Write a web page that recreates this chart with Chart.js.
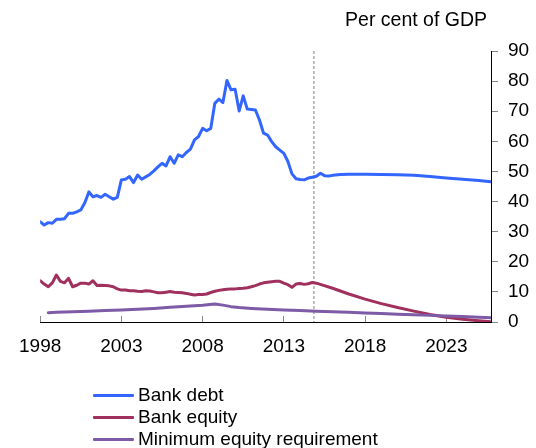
<!DOCTYPE html>
<html>
<head>
<meta charset="utf-8">
<script src="https://cdn.jsdelivr.net/npm/chart.js@4"></script>
<style>
  html, body { margin: 0; padding: 0; background: #fff; }
  #wrap { position: relative; width: 536px; height: 448px; overflow: hidden; }
  #legend { position: absolute; left: 93px; top: 384px; font-family: 'Liberation Sans', Arial, sans-serif; font-size: 19px; color: #000; }
  .row { height: 22px; line-height: 22px; white-space: nowrap; display: flex; align-items: center; }
  .swatch { width: 41px; height: 3px; margin-right: 4px; border-radius: 1px; }
</style>
</head>
<body>
<div id="wrap">
  <canvas id="c" width="536" height="448"></canvas>
  <div id="legend"></div>
</div>
<script>
// ---- Data ----
const seriesNames = ['Bank debt', 'Bank equity', 'Minimum equity requirement'];
const seriesColors = ['#3366FF', '#A0305E', '#7D5BA6'];
const yAxisTitle = 'Per cent of GDP';
const xTickYears = [1998, 2003, 2008, 2013, 2018, 2023];
const yTickMin = 0, yTickMax = 90, yTickStep = 10;
const xMin = 1998, xMax = 2025.75;
const projectionStart = 2014.85;

const debtYears = [
  1998.0, 1998.25, 1998.5, 1998.75, 1999.0, 1999.25, 1999.5, 1999.75,
  2000.0, 2000.25, 2000.5, 2000.75, 2001.0, 2001.25, 2001.5, 2001.75,
  2002.0, 2002.25, 2002.5, 2002.75, 2003.0, 2003.25, 2003.5, 2003.75,
  2004.0, 2004.25, 2004.5, 2004.75, 2005.0, 2005.25, 2005.5, 2005.75,
  2006.0, 2006.25, 2006.5, 2006.75, 2007.0, 2007.25, 2007.5, 2007.75,
  2008.0, 2008.25, 2008.5, 2008.75, 2009.0, 2009.25, 2009.5, 2009.75,
  2010.0, 2010.25, 2010.5, 2010.75, 2011.0, 2011.25, 2011.5, 2011.75,
  2012.0, 2012.25, 2012.5, 2012.75, 2013.0, 2013.25, 2013.5, 2013.75,
  2014.0, 2014.25, 2014.5, 2014.75, 2015.0, 2015.25, 2015.5, 2015.75,
  2016.0, 2016.5, 2017.0, 2018.0, 2019.0, 2020.0, 2021.0, 2022.0,
  2023.0, 2024.0, 2025.0, 2025.75
];
const debtValues = [
  33.3, 32.2, 33.0, 32.8, 34.1, 34.1, 34.3, 36.1,
  36.1, 36.6, 37.2, 39.6, 43.2, 41.6, 42.0, 41.4,
  42.4, 41.6, 40.8, 41.4, 47.2, 47.4, 48.3, 46.3,
  48.8, 47.4, 48.2, 49.0, 50.2, 51.5, 52.7, 51.8,
  54.9, 52.7, 55.5, 54.9, 56.3, 57.4, 60.5, 61.6,
  64.3, 63.5, 64.3, 72.6, 74.0, 72.9, 80.2, 77.1,
  77.3, 70.1, 75.1, 70.7, 70.6, 70.4, 67.1, 62.7,
  62.1, 59.9, 58.2, 57.1, 56.0, 53.3, 49.2, 47.6,
  47.3, 47.2, 47.8, 48.1, 48.4, 49.4, 48.6, 48.5,
  48.7, 49.0, 49.1, 49.1, 49.0, 48.9, 48.7, 48.3,
  47.8, 47.4, 47.0, 46.6
];

const equityYears = [
  1998.0, 1998.25, 1998.5, 1998.75, 1999.0, 1999.25, 1999.5, 1999.75,
  2000.0, 2000.25, 2000.5, 2000.75, 2001.0, 2001.25, 2001.5, 2001.75,
  2002.0, 2002.25, 2002.5, 2002.75, 2003.0, 2003.25, 2003.5, 2003.75,
  2004.0, 2004.25, 2004.5, 2004.75, 2005.0, 2005.25, 2005.5, 2005.75,
  2006.0, 2006.25, 2006.5, 2006.75, 2007.0, 2007.25, 2007.5, 2007.75,
  2008.0, 2008.25, 2008.5, 2008.75, 2009.0, 2009.25, 2009.5, 2009.75,
  2010.0, 2010.25, 2010.5, 2010.75, 2011.0, 2011.25, 2011.5, 2011.75,
  2012.0, 2012.25, 2012.5, 2012.75, 2013.0, 2013.25, 2013.5, 2013.75,
  2014.0, 2014.25, 2014.5, 2014.75, 2015.0, 2015.25, 2016.0, 2017.0,
  2018.0, 2019.0, 2020.0, 2021.0, 2022.0, 2023.0, 2024.0, 2025.0, 2025.75
];
const equityValues = [
  13.7, 12.6, 11.7, 13.0, 15.6, 13.5, 13.0, 14.5,
  11.7, 12.2, 12.9, 12.9, 12.6, 13.7, 12.1, 12.2,
  12.1, 12.0, 11.7, 11.0, 10.6, 10.6, 10.4, 10.4,
  10.2, 10.1, 10.4, 10.3, 10.0, 9.7, 9.7, 9.9,
  10.1, 9.9, 9.8, 9.7, 9.5, 9.2, 9.0, 9.1,
  9.1, 9.3, 9.8, 10.2, 10.5, 10.7, 10.9, 11.0,
  11.0, 11.1, 11.2, 11.4, 11.7, 12.1, 12.6, 13.0,
  13.2, 13.4, 13.5, 13.5, 12.9, 12.4, 11.5, 12.6,
  12.8, 12.5, 12.7, 13.1, 12.9, 12.5, 11.2, 9.3,
  7.6, 6.1, 4.8, 3.6, 2.5, 1.6, 0.9, 0.4, 0.1
];

const minEquityYears = [
  1998.5, 1999.0, 2000.0, 2001.0, 2002.0, 2003.0, 2004.0, 2005.0,
  2006.0, 2007.0, 2008.0, 2008.75, 2009.25, 2009.75, 2010.25, 2011.0,
  2012.0, 2013.0, 2014.0, 2015.0, 2016.0, 2017.0, 2018.0, 2019.0,
  2020.0, 2021.0, 2022.0, 2023.0, 2024.0, 2025.0, 2025.75
];
const minEquityValues = [
  3.1, 3.2, 3.4, 3.6, 3.8, 4.0, 4.2, 4.5,
  4.9, 5.2, 5.6, 6.0, 5.6, 5.1, 4.8, 4.5,
  4.2, 4.0, 3.8, 3.6, 3.4, 3.2, 3.0, 2.8,
  2.6, 2.4, 2.2, 2.0, 1.8, 1.6, 1.4
];

// ---- Build chart ----
const FONT = "'Liberation Sans', Arial, sans-serif";
const toPoints = (xs, ys) => xs.map((x, i) => ({ x: x, y: ys[i] }));

const datasets = [
  { label: seriesNames[0], data: toPoints(debtYears, debtValues), borderColor: seriesColors[0], order: 0 },
  { label: seriesNames[1], data: toPoints(equityYears, equityValues), borderColor: seriesColors[1], order: 2 },
  { label: seriesNames[2], data: toPoints(minEquityYears, minEquityValues), borderColor: seriesColors[2], order: 1 }
].map(d => Object.assign(d, { borderWidth: 3, pointRadius: 0, tension: 0, fill: false, borderJoinStyle: 'round', borderCapStyle: 'round' }));

const overlayPlugin = {
  id: 'overlay',
  beforeDatasetsDraw(chart) {
    const { ctx, chartArea, scales } = chart;
    const px = scales.x.getPixelForValue(projectionStart);
    ctx.save();
    ctx.strokeStyle = '#ABABAB';
    ctx.lineWidth = 1.5;
    ctx.setLineDash([3, 2]);
    ctx.beginPath();
    ctx.moveTo(px, chartArea.top);
    ctx.lineTo(px, chartArea.bottom);
    ctx.stroke();
    ctx.restore();
  },
  afterDraw(chart) {
    const { ctx, chartArea } = chart;
    ctx.save();
    ctx.font = '19.5px ' + FONT;
    ctx.fillStyle = '#000';
    ctx.textAlign = 'right';
    ctx.textBaseline = 'middle';
    ctx.fillText(yAxisTitle, chartArea.right - 4, 21);
    ctx.restore();
  }
};

new Chart(document.getElementById('c'), {
  type: 'line',
  data: { datasets },
  plugins: [overlayPlugin],
  options: {
    responsive: false,
    animation: false,
    events: [],
    layout: { padding: { left: 29, top: 51, right: 0, bottom: 86 } },
    plugins: { legend: { display: false }, tooltip: { enabled: false }, title: { display: false } },
    scales: {
      x: {
        type: 'linear',
        position: 'bottom',
        min: xMin,
        max: xMax,
        afterBuildTicks: s => { s.ticks = xTickYears.map(v => ({ value: v })); },
        afterFit: s => { s.height = 40; },
        grid: { drawOnChartArea: false, tickLength: -6, color: '#888', tickColor: '#888', lineWidth: 1 },
        border: { color: '#000', width: 1 },
        ticks: { color: '#000', font: { family: FONT, size: 19 }, padding: 19, maxRotation: 0, autoSkip: false, callback: v => String(v) }
      },
      y: {
        position: 'right',
        min: yTickMin,
        max: yTickMax,
        afterFit: s => { s.width = 45; },
        grid: { drawOnChartArea: false, tickLength: 7, color: '#888', tickColor: '#888', lineWidth: 1 },
        border: { color: '#000', width: 1 },
        ticks: { stepSize: yTickStep, color: '#000', font: { family: FONT, size: 19 }, padding: 10 }
      }
    }
  }
});

// HTML legend built from series names/colours
const legend = document.getElementById('legend');
seriesNames.forEach((name, i) => {
  const row = document.createElement('div');
  row.className = 'row';
  const sw = document.createElement('span');
  sw.className = 'swatch';
  sw.style.background = seriesColors[i];
  const t = document.createElement('span');
  t.textContent = name;
  row.appendChild(sw);
  row.appendChild(t);
  legend.appendChild(row);
});
</script>
</body>
</html>
